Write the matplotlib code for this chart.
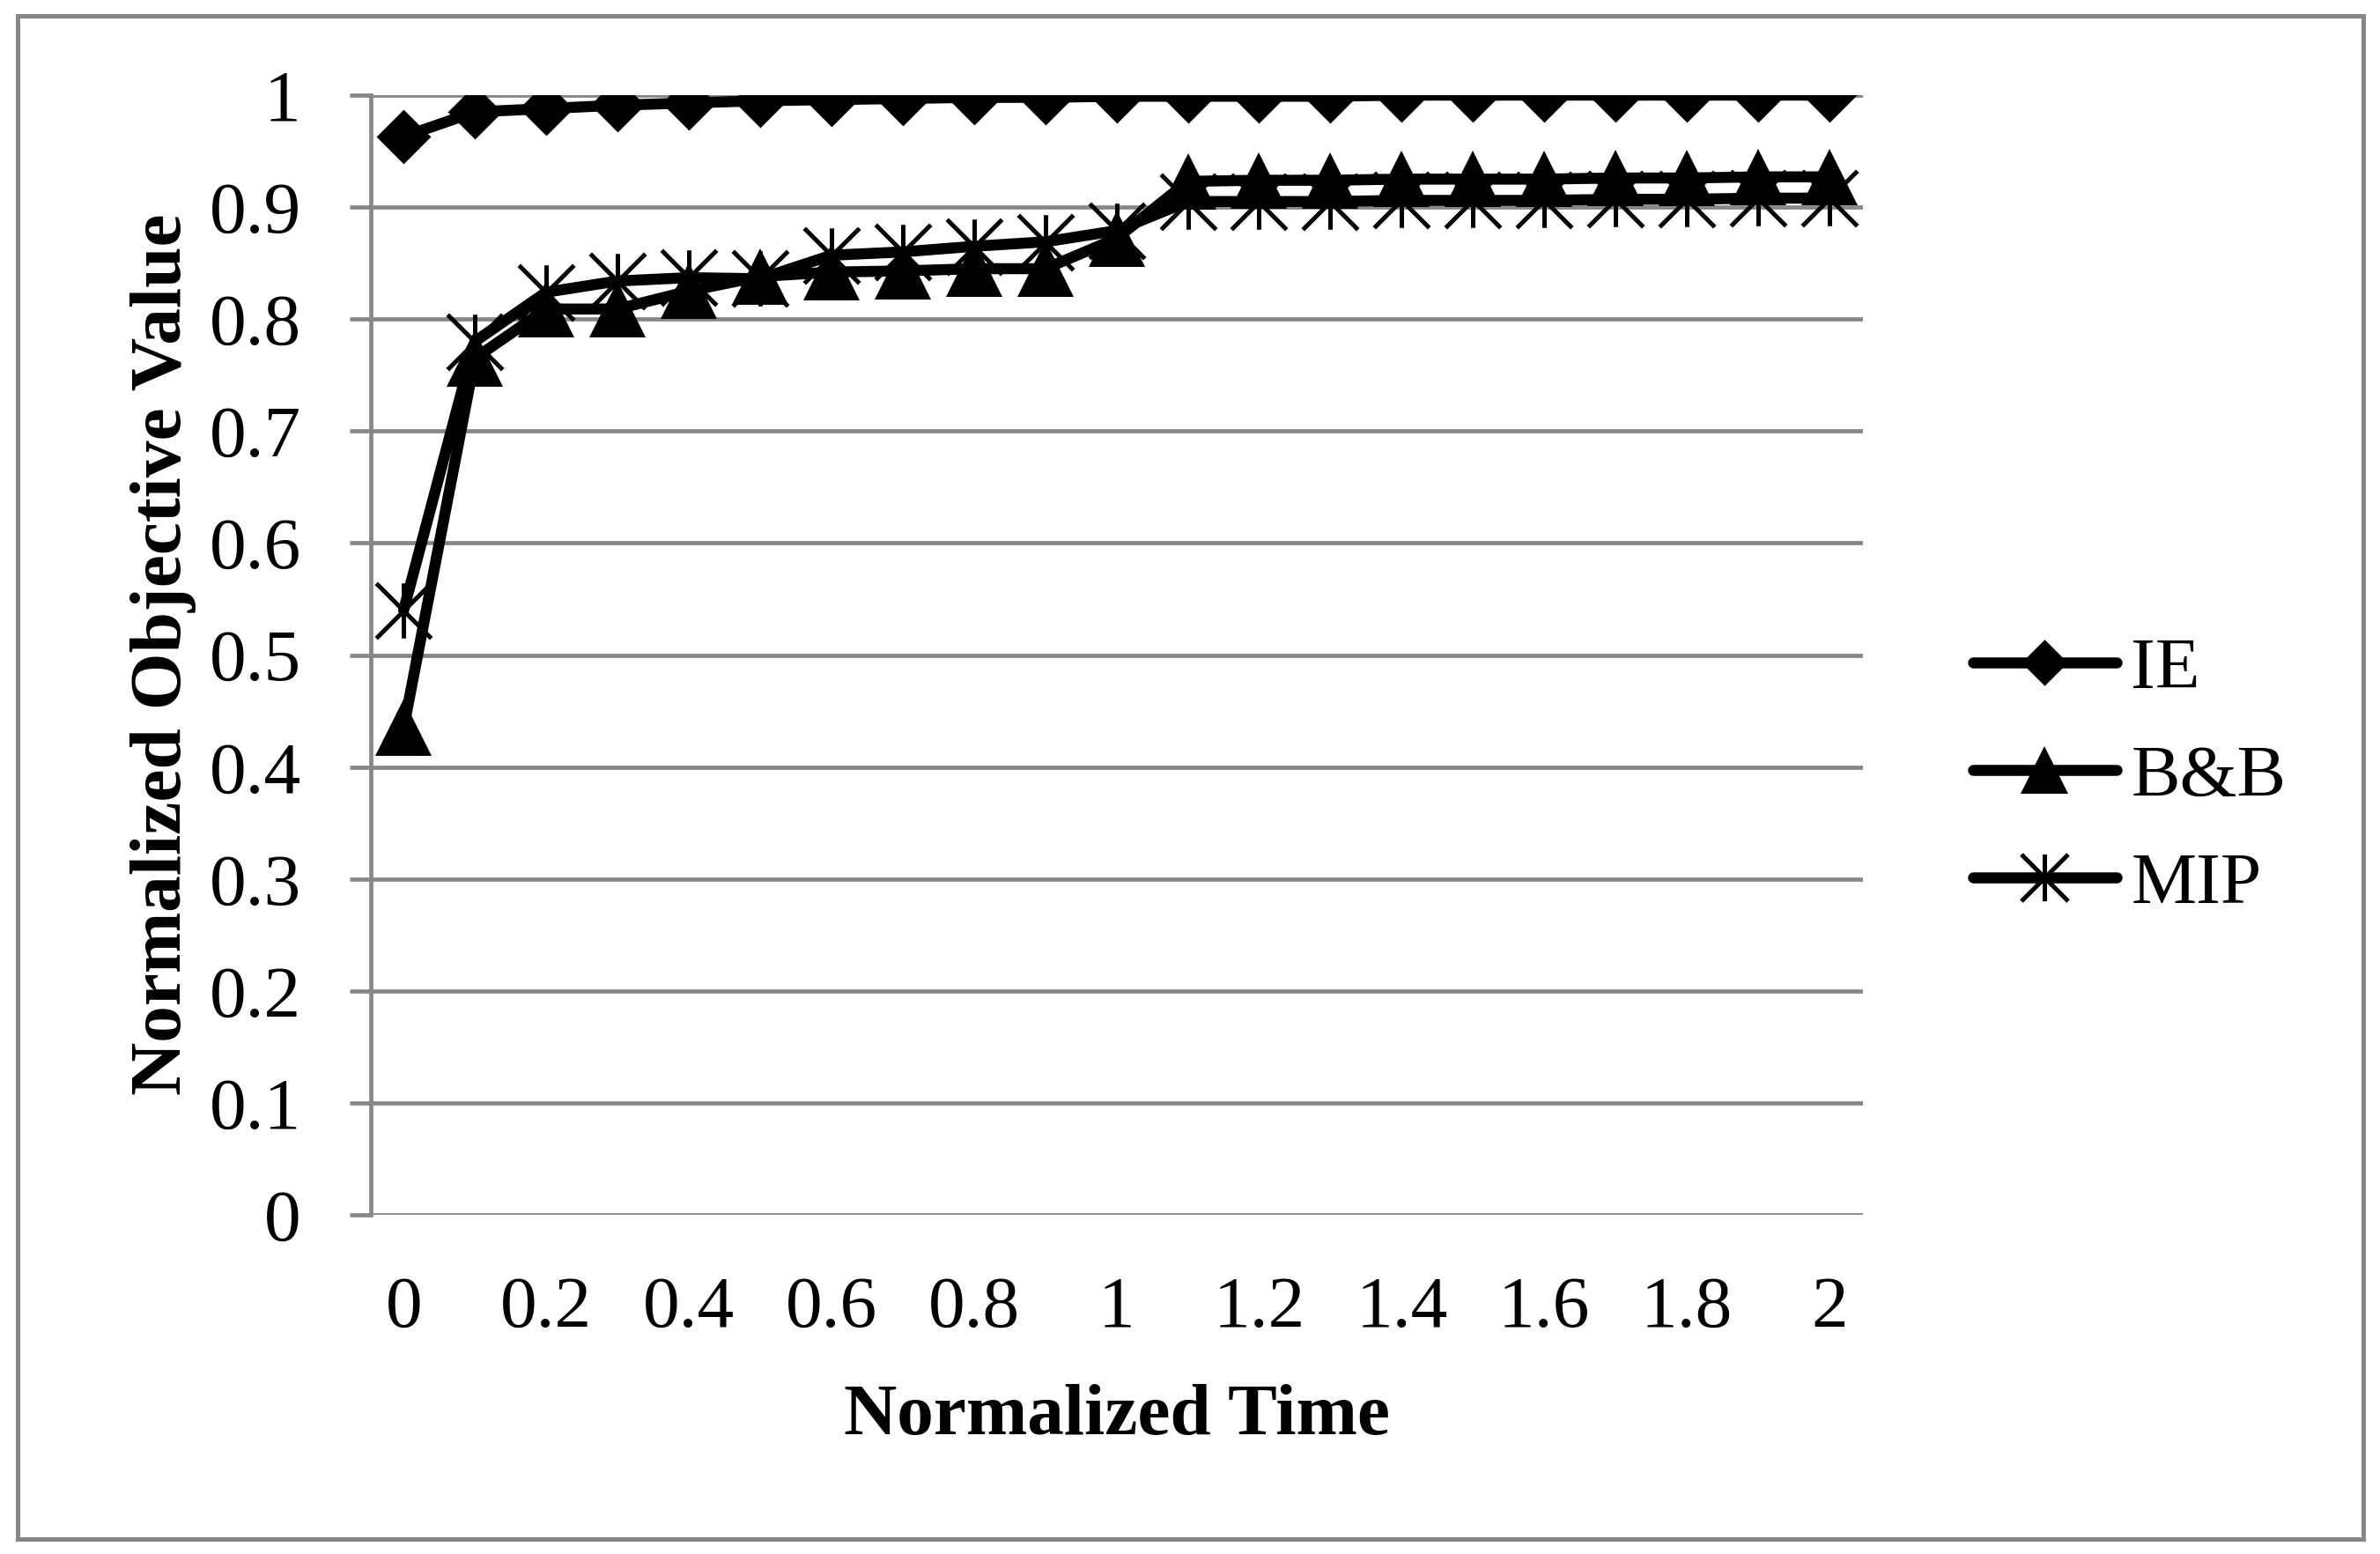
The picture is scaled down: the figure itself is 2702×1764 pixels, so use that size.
import numpy as np
import matplotlib
matplotlib.use('Agg')
import matplotlib.pyplot as plt
from matplotlib.path import Path
from matplotlib.patches import Rectangle

# Data
time = [0, 0.1, 0.2, 0.3, 0.4, 0.5, 0.6, 0.7, 0.8, 0.9, 1.0,
        1.1, 1.2, 1.3, 1.4, 1.5, 1.6, 1.7, 1.8, 1.9, 2.0]
ie = [0.963, 0.985, 0.988, 0.991, 0.993, 0.995, 0.996, 0.997, 0.998, 0.998, 0.999,
      0.999, 0.999, 0.999, 1.0, 1.0, 1.0, 1.0, 1.0, 1.0, 1.0]
bnb = [0.435, 0.765, 0.809, 0.809, 0.825, 0.838, 0.842, 0.843, 0.845, 0.845, 0.872,
       0.923, 0.924, 0.924, 0.925, 0.925, 0.925, 0.926, 0.926, 0.927, 0.927]
mip = [0.540, 0.780, 0.824, 0.834, 0.837, 0.836, 0.857, 0.860, 0.865, 0.869, 0.879,
       0.905, 0.905, 0.905, 0.906, 0.906, 0.906, 0.907, 0.907, 0.908, 0.908]
xtick_vals = [0, 0.2, 0.4, 0.6, 0.8, 1.0, 1.2, 1.4, 1.6, 1.8, 2.0]
xtick_labels = ['0', '0.2', '0.4', '0.6', '0.8', '1', '1.2', '1.4', '1.6', '1.8', '2']
ytick_vals = [0, 0.1, 0.2, 0.3, 0.4, 0.5, 0.6, 0.7, 0.8, 0.9, 1.0]
ytick_labels = ['0', '0.1', '0.2', '0.3', '0.4', '0.5', '0.6', '0.7', '0.8', '0.9', '1']

plt.rcParams['font.family'] = ['Liberation Serif', 'DejaVu Serif']
grey = '#878787'

# Excel style markers: "star" = vertical bar plus an X, diamond with full height = ms
star = Path([(0, -1), (0, 1), (-1, -1), (1, 1), (-1, 1), (1, -1)],
            [Path.MOVETO, Path.LINETO, Path.MOVETO, Path.LINETO, Path.MOVETO, Path.LINETO])
diamond = Path([(0, 1), (1, 0), (0, -1), (-1, 0), (0, 1)], closed=True)

W, H = 2702, 1764
fig = plt.figure(figsize=(W / 100, H / 100), dpi=100)
ax = fig.add_axes([421 / W, 1 - 1379 / H, (2115 - 421) / W, (1379 - 108) / H])

common = dict(color='k', lw=9, solid_capstyle='round', solid_joinstyle='round')
ax.plot(time, ie, marker=diamond, ms=44.5, mew=0, label='IE', **common)
ax.plot(time, bnb, marker='^', ms=46, mew=0, label='B&B', **common)
ax.plot(time, mip, marker=star, ms=45, mew=3.6, mfc='none', mec='k', label='MIP', **common)

ax.set_xlim(-0.046, 2.047)
ax.set_ylim(0, 1)
ax.set_xticks(xtick_vals)
ax.set_xticklabels(xtick_labels)
ax.set_yticks(ytick_vals)
ax.set_yticklabels(ytick_labels)
ax.tick_params(axis='x', length=0, pad=50, labelsize=60)
ax.tick_params(axis='y', length=17, width=3.4, color=grey, pad=40, labelsize=60)
ax.yaxis.grid(True, color=grey, lw=3.4)
ax.set_axisbelow(True)
for s in ['top', 'right', 'bottom']:
    ax.spines[s].set_visible(False)
ax.spines['left'].set_color(grey)
ax.spines['left'].set_linewidth(3.4)

fig.text(1268 / W, 1 - 1628 / H, 'Normalized Time', ha='center', va='baseline',
         fontsize=60, fontweight='bold')
fig.text(205 / W, 1 - 743 / H, 'Normalized Objective Value', ha='center', va='baseline',
         rotation=90, rotation_mode='anchor', fontsize=60, fontweight='bold')

leg = ax.legend(loc='center left', bbox_to_anchor=(2240 / W, 1 - 883 / H),
                bbox_transform=fig.transFigure, frameon=False, fontsize=60,
                handlelength=1.95, handletextpad=0.2, labelspacing=0.55,
                borderpad=0, borderaxespad=0, markerscale=0.85)

# outer chart border
fig.patches.append(Rectangle((20 / W, 1 - 1747 / H), (2683 - 20) / W, (1747 - 18) / H,
                             transform=fig.transFigure, fill=False, ec=grey, lw=3.6))

plt.savefig('out.png', dpi=100)
